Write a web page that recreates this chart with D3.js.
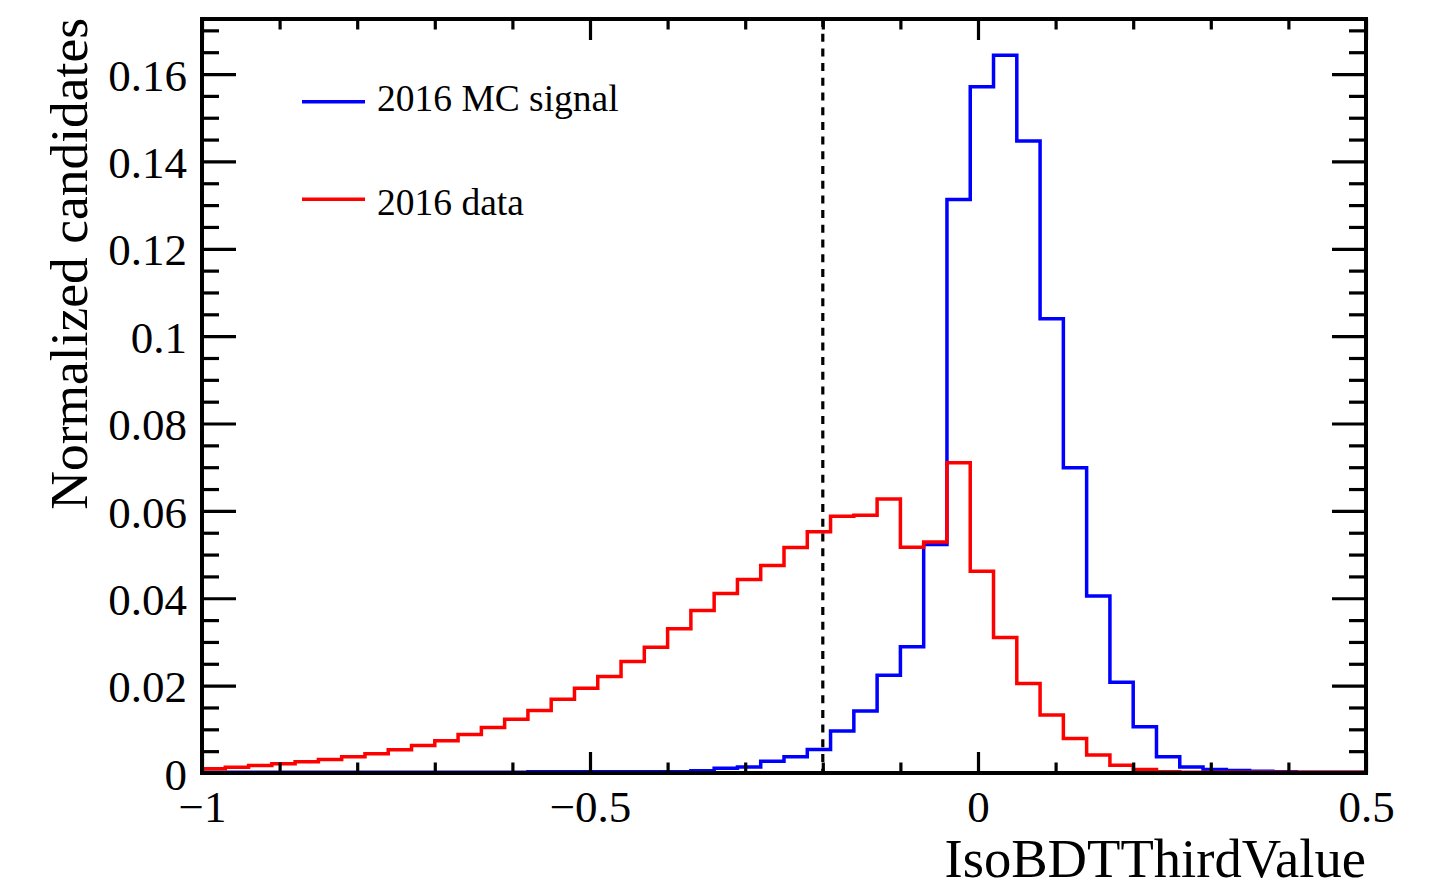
<!DOCTYPE html>
<html>
<head>
<meta charset="utf-8">
<script src="https://cdn.jsdelivr.net/npm/d3@7"></script>
<style>
  body { margin: 0; background: #fff; }
  text { font-family: "Liberation Serif", "Times New Roman", serif; fill: #000; }
</style>
</head>
<body>
<script>
// Histogram binning: 50 bins of IsoBDTThirdValue between -1 and 0.5
let xMin = -1, xMax = 0.5, nBins = 50

// Normalized bin contents
let mcSignal2016 = [
  0.0002, 0.0002, 0.0002, 0.0002, 0.0002, 0.0002, 0.0002, 0.0002, 0.0002, 0.0002,
  0.0002, 0.0002, 0.0002, 0.0002, 0.0003, 0.0003, 0.0003, 0.0003, 0.0003, 0.0003,
  0.0003, 0.0005, 0.0011, 0.0014, 0.0027, 0.0037, 0.0054, 0.0096, 0.0142, 0.0224,
  0.0289, 0.0523, 0.1313, 0.1571, 0.1643, 0.1447, 0.1040, 0.0699, 0.0405, 0.0208,
  0.0106, 0.0037, 0.0014, 0.0008, 0.0006, 0.0004, 0.0003, 0.0002, 0.0002, 0.0002
]
let data2016 = [
  0.0010, 0.0013, 0.0017, 0.0021, 0.0026, 0.0031, 0.0037, 0.0044, 0.0053, 0.0063,
  0.0074, 0.0088, 0.0104, 0.0123, 0.0143, 0.0169, 0.0194, 0.0221, 0.0255, 0.0288,
  0.0330, 0.0372, 0.0411, 0.0443, 0.0475, 0.0516, 0.0552, 0.0588, 0.0590, 0.0627,
  0.0517, 0.0529, 0.0710, 0.0462, 0.0310, 0.0205, 0.0133, 0.0079, 0.0041, 0.0018,
  0.0008, 0.0003, 0.0002, 0.0002, 0.0002, 0.0002, 0.0002, 0.0002, 0.0002, 0.0002
]

let seriesNames = ["2016 MC signal", "2016 data"]
let seriesColors = ["#0000ff", "#ff0000"]

let cutValue = -0.2

let xTicks = [-1, -0.5, 0, 0.5]
let xTickLabels = ["\u22121", "\u22120.5", "0", "0.5"]
let yTicks = [0, 0.02, 0.04, 0.06, 0.08, 0.1, 0.12, 0.14, 0.16]
let yTickLabels = ["0", "0.02", "0.04", "0.06", "0.08", "0.1", "0.12", "0.14", "0.16"]
let yMax = 0.1726

let width = 1450, height = 888
let padL = 202, padR = 1366, padT = 19, padB = 773

let svg = d3.select("body").append("svg")
    .attr("width", width)
    .attr("height", height)

let x = d3.scaleLinear().domain([xMin, xMax]).range([padL, padR])
let y = d3.scaleLinear().domain([0, yMax]).range([padB, padT])

let binWidth = (xMax - xMin) / nBins
let edges = d3.range(nBins + 1).map(i => xMin + i * binWidth)

// minor ticks: every 0.1 on x, every 0.005 on y
let xMinor = d3.range(-10, 6).map(i => i / 10).filter(v => xTicks.indexOf(v) < 0)
let yMinor = d3.range(0, 35).map(i => i * 0.005).filter(v => v <= yMax && !yTicks.some(t => Math.abs(t - v) < 1e-9))

// histogram outlines, ROOT style step contour
let histLine = d3.line()
  .x(d => x(d[0]))
  .y(d => y(d[1]))
  .curve(d3.curveStepAfter)

function outline(values) {
  let pts = [[edges[0], 0]]
  values.forEach((v, i) => pts.push([edges[i], v]))
  pts.push([edges[nBins], values[nBins - 1]])
  pts.push([edges[nBins], 0])
  return pts
}

;[mcSignal2016, data2016].forEach((vals, i) => {
  svg.append("path")
    .attr("d", histLine(outline(vals)))
    .attr("fill", "none")
    .attr("stroke", seriesColors[i])
    .attr("stroke-width", 3.5)
})

// dashed cut line
svg.append("line")
  .attr("x1", x(cutValue)).attr("x2", x(cutValue))
  .attr("y1", padT).attr("y2", padB)
  .attr("stroke", "#000")
  .attr("stroke-width", 3.2)
  .attr("stroke-dasharray", "8,6.7")

// axes: ticks pointing inwards on all four sides
function styleAxis(g) {
  g.select(".domain").remove()
  g.selectAll(".tick line").attr("stroke", "#000").attr("stroke-width", 3.2)
  g.selectAll(".tick text").style("font-size", "45px")
}

svg.append("g").attr("transform", `translate(0,${padB})`)
  .call(d3.axisBottom(x).tickValues(xTicks).tickFormat((d, i) => xTickLabels[i])
    .tickSizeInner(-21).tickSizeOuter(0).tickPadding(17))
  .call(styleAxis)
svg.append("g").attr("transform", `translate(0,${padB})`)
  .call(d3.axisBottom(x).tickValues(xMinor).tickFormat("").tickSizeInner(-10.5).tickSizeOuter(0))
  .call(styleAxis)
svg.append("g").attr("transform", `translate(0,${padT})`)
  .call(d3.axisTop(x).tickValues(xTicks).tickFormat("").tickSizeInner(-21).tickSizeOuter(0))
  .call(styleAxis)
svg.append("g").attr("transform", `translate(0,${padT})`)
  .call(d3.axisTop(x).tickValues(xMinor).tickFormat("").tickSizeInner(-10.5).tickSizeOuter(0))
  .call(styleAxis)

svg.append("g").attr("transform", `translate(${padL},0)`)
  .call(d3.axisLeft(y).tickValues(yTicks).tickFormat((d, i) => yTickLabels[i])
    .tickSizeInner(-34).tickSizeOuter(0).tickPadding(15))
  .call(styleAxis)
  .call(g => g.selectAll(".tick text").attr("dy", "0.36em"))
svg.append("g").attr("transform", `translate(${padL},0)`)
  .call(d3.axisLeft(y).tickValues(yMinor).tickFormat("").tickSizeInner(-17).tickSizeOuter(0))
  .call(styleAxis)
svg.append("g").attr("transform", `translate(${padR},0)`)
  .call(d3.axisRight(y).tickValues(yTicks).tickFormat("").tickSizeInner(-34).tickSizeOuter(0))
  .call(styleAxis)
svg.append("g").attr("transform", `translate(${padR},0)`)
  .call(d3.axisRight(y).tickValues(yMinor).tickFormat("").tickSizeInner(-17).tickSizeOuter(0))
  .call(styleAxis)

// frame
svg.append("rect")
  .attr("x", padL).attr("y", padT)
  .attr("width", padR - padL).attr("height", padB - padT)
  .attr("fill", "none")
  .attr("stroke", "#000")
  .attr("stroke-width", 4)

// axis titles
svg.append("text")
  .attr("x", padR).attr("y", 877)
  .attr("text-anchor", "end")
  .style("font-size", "54.6px")
  .text("IsoBDTThirdValue")

svg.append("text")
  .attr("transform", `translate(87,18) rotate(-90)`)
  .attr("text-anchor", "end")
  .style("font-size", "53.5px")
  .text("Normalized candidates")

// legend
let legendRows = [101.7, 199.3]
let legendBaselines = [111, 215]
let legend = svg.append("g")
seriesNames.forEach((name, i) => {
  legend.append("line")
    .attr("x1", 302).attr("x2", 365)
    .attr("y1", legendRows[i]).attr("y2", legendRows[i])
    .attr("stroke", seriesColors[i])
    .attr("stroke-width", 3.5)
  legend.append("text")
    .attr("x", 377).attr("y", legendBaselines[i])
    .style("font-size", "37.5px")
    .text(name)
})
</script>
</body>
</html>
